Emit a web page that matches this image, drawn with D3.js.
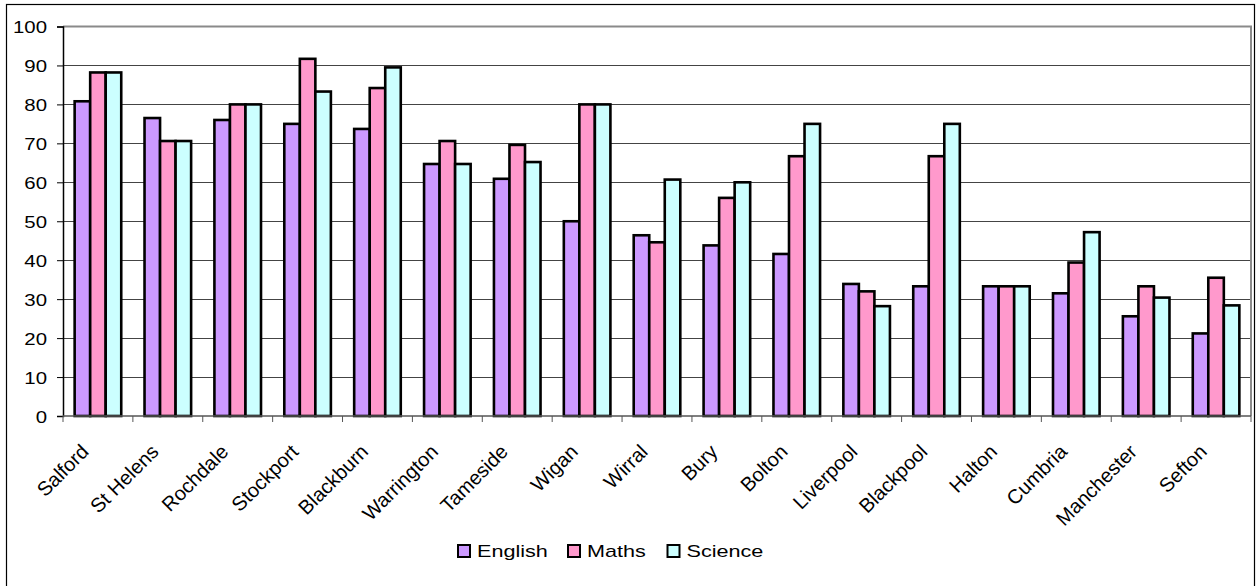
<!DOCTYPE html>
<html>
<head>
<meta charset="utf-8">
<script src="https://cdn.jsdelivr.net/npm/d3@7"></script>
<style>
  html, body { margin: 0; padding: 0; background: #fff; }
  svg { display: block; font-family: Arial, "Liberation Sans", sans-serif; }
</style>
</head>
<body>
<svg id="chart" width="1256" height="586"></svg>
<script>
// Results by local authority, percent
const categories = ["Salford", "St Helens", "Rochdale", "Stockport", "Blackburn", "Warrington",
  "Tameside", "Wigan", "Wirral", "Bury", "Bolton", "Liverpool", "Blackpool", "Halton",
  "Cumbria", "Manchester", "Sefton"];
const english = [80.8, 76.5, 76, 75, 73.7, 64.7, 60.9, 50, 46.4, 43.8, 41.6, 33.9, 33.3, 33.3, 31.5, 25.6, 21.2];
const maths   = [88.2, 70.6, 80, 91.7, 84.2, 70.6, 69.6, 80, 44.6, 56, 66.7, 32, 66.7, 33.3, 39.4, 33.3, 35.5];
const science = [88.2, 70.6, 80, 83.3, 89.5, 64.7, 65.2, 80, 60.7, 60, 75, 28.2, 75, 33.3, 47.2, 30.4, 28.4];
const seriesNames = ["English", "Maths", "Science"];
const seriesColors = ["#CC99FF", "#FF99CC", "#CCFFFF"];
const yTicks = [0, 10, 20, 30, 40, 50, 60, 70, 80, 90, 100];

const seriesValues = [english, maths, science];
const svg = d3.select("#chart");
const textStretch = 1.2;
const fontSize = 17;

const plot = { left: 63, right: 1251, top: 26.5, bottom: 416 };

const x0 = d3.scaleBand().domain(categories).range([plot.left, plot.right]).padding(0);
const x1 = d3.scaleBand().domain(seriesNames).range([0, x0.bandwidth()])
  .paddingInner(0).paddingOuter(0.75);
const y = d3.scaleLinear().domain([0, 100]).range([plot.bottom, plot.top]);

// outer chart frame
svg.append("rect")
  .attr("x", 6.5).attr("y", 4.5).attr("width", 1248).attr("height", 600)
  .attr("fill", "none").attr("stroke", "#000").attr("stroke-width", 1.2);

// horizontal gridlines
svg.append("g").selectAll("line").data(yTicks.filter(t => t > 0 && t < 100)).join("line")
  .attr("x1", plot.left).attr("x2", plot.right)
  .attr("y1", d => Math.round(y(d)) + 0.5).attr("y2", d => Math.round(y(d)) + 0.5)
  .attr("stroke", "#444").attr("stroke-width", 1.2);

// plot area border (top and right)
svg.append("path")
  .attr("d", `M${plot.left},${plot.top}H${plot.right}V${plot.bottom}`)
  .attr("fill", "none").attr("stroke", "#8a8a8a").attr("stroke-width", 2);

// bars
const groups = svg.append("g").selectAll("g").data(categories).join("g")
  .attr("transform", d => `translate(${x0(d)},0)`);
groups.selectAll("rect")
  .data((c, i) => seriesNames.map((s, k) => ({ s, k, v: seriesValues[k][i] })))
  .join("rect")
  .attr("x", d => x1(d.s))
  .attr("width", x1.bandwidth())
  .attr("y", d => y(d.v))
  .attr("height", d => y(0) - y(d.v))
  .attr("fill", d => seriesColors[d.k])
  .attr("stroke", "#000").attr("stroke-width", 2.6);

// y axis
const yAxis = svg.append("g").attr("transform", `translate(${plot.left},0)`)
  .call(d3.axisLeft(y).tickValues(yTicks).tickSize(6).tickPadding(0).tickFormat(d3.format("d")));
yAxis.select(".domain").attr("stroke", "#000").attr("stroke-width", 1.5);
yAxis.selectAll(".tick line").attr("stroke", "#000");
yAxis.selectAll(".tick text").remove();
yAxis.selectAll(".tick").append("text")
  .attr("transform", `translate(-16,0) scale(${textStretch},1)`)
  .attr("text-anchor", "end").attr("dy", "0.36em")
  .attr("fill", "#000").attr("font-size", fontSize)
  .text(d => d);

// x axis with ticks at category boundaries
const xAxisG = svg.append("g").attr("transform", `translate(0,${plot.bottom})`);
xAxisG.append("line").attr("x1", plot.left).attr("x2", plot.right)
  .attr("y1", 0).attr("y2", 0).attr("stroke", "#555").attr("stroke-width", 1.5);
xAxisG.selectAll("line.tk").data(categories.concat([null])).join("line").attr("class", "tk")
  .attr("x1", (d, i) => plot.left + i * x0.step()).attr("x2", (d, i) => plot.left + i * x0.step())
  .attr("y1", 0).attr("y2", 6).attr("stroke", "#555");
xAxisG.selectAll("text").data(categories).join("text")
  .attr("transform", d => `translate(${x0(d) + x0.bandwidth() / 2 - 8},${37}) rotate(-45)`)
  .attr("text-anchor", "end")
  .attr("font-size", 20).attr("fill", "#000")
  .text(d => d);

// legend
const legend = svg.append("g").attr("transform", "translate(457,544)");
const legendX = [0, 110, 209.5];
const item = legend.selectAll("g").data(seriesNames).join("g")
  .attr("transform", (d, i) => `translate(${legendX[i]},0)`);
item.append("rect").attr("x", 1).attr("y", 1).attr("width", 12).attr("height", 12)
  .attr("fill", (d, i) => seriesColors[i]).attr("stroke", "#000").attr("stroke-width", 2);
item.append("text")
  .attr("transform", `translate(20,13) scale(1.27,1)`)
  .attr("font-size", fontSize).attr("fill", "#000")
  .text(d => d);
</script>
</body>
</html>
